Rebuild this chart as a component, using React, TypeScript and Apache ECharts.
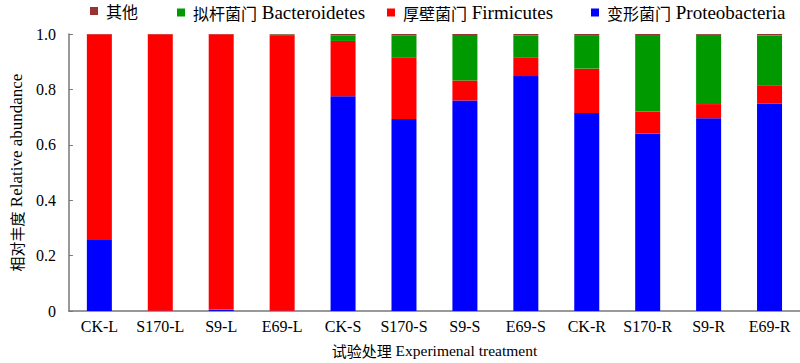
import React, { useEffect, useRef } from "react";
import * as echarts from "echarts";

const categories = ["CK-L", "S170-L", "S9-L", "E69-L", "CK-S", "S170-S", "S9-S", "E69-S", "CK-R", "S170-R", "S9-R", "E69-R"];
const proteobacteria = [0.256, 0.001, 0.005, 0.001, 0.775, 0.693, 0.760, 0.848, 0.715, 0.641, 0.696, 0.749];
const firmicutes = [0.743, 0.998, 0.994, 0.992, 0.200, 0.223, 0.072, 0.068, 0.160, 0.079, 0.051, 0.066];
const bacteroidetes = [0.000, 0.000, 0.000, 0.005, 0.020, 0.078, 0.164, 0.079, 0.121, 0.273, 0.250, 0.180];
const others = [0.001, 0.001, 0.001, 0.002, 0.005, 0.006, 0.004, 0.005, 0.004, 0.007, 0.003, 0.005];

const seriesNames = ["变形菌门 Proteobacteria", "厚壁菌门 Firmicutes", "拟杆菌门 Bacteroidetes", "其他"];
const seriesColors = ["#0000ff", "#ff0000", "#009900", "#993333"];
const yTicks = [0, 0.2, 0.4, 0.6, 0.8, 1.0];
const xAxisName = "试验处理 Experimenal treatment";
const yAxisName = "相对丰度 Relative abundance";

const SERIF = "Liberation Serif, serif";
const CJK = "Noto Sans CJK SC, sans-serif";

const split = (name: string) => {
  const sp = name.indexOf(" ");
  if (sp < 0) return `{c|${name}}`;
  return `{c|${name.slice(0, sp)}}{e| ${name.slice(sp + 1)}}`;
};

export default function App() {
  const ref = useRef<HTMLDivElement>(null);
  useEffect(() => {
    document.body.style.margin = "0";
    const chart = echarts.init(ref.current!, null, { renderer: "svg" });
    const dataSets = [proteobacteria, firmicutes, bacteroidetes, others];
    const legendLefts = [591, 387, 177, 90];
    const richFor = (cSize: number, eSize: number, lh?: number) => ({
      c: { fontFamily: CJK, fontSize: cSize, color: "#000", lineHeight: lh },
      e: { fontFamily: SERIF, fontSize: eSize, color: "#000", lineHeight: lh },
    });
    chart.setOption({
      animation: false,
      textStyle: { fontFamily: SERIF, color: "#000" },
      legend: seriesNames.map((n, i) => ({
        data: [n],
        left: legendLefts[i],
        top: 3,
        padding: 0,
        itemWidth: 8,
        itemHeight: 8,
        itemGap: 6,
        icon: "rect",
        formatter: split,
        textStyle: {
          fontFamily: SERIF,
          fontSize: 16,
          color: "#000",
          lineHeight: 16,
          padding: [0, 0, 0, 3],
          rich: richFor(16, 19, 16),
        },
      })),
      grid: { left: 61, right: 0, top: 34, bottom: 47, containLabel: false },
      xAxis: {
        type: "category",
        data: categories,
        name: split(xAxisName),
        nameLocation: "middle",
        nameGap: 31,
        nameTextStyle: { fontFamily: SERIF, fontSize: 15.5, color: "#000", rich: richFor(15, 15.5) },
        axisLine: { lineStyle: { color: "#777777", width: 1.5 } },
        axisTick: { show: false },
        axisLabel: { fontFamily: SERIF, fontSize: 16, color: "#000", margin: 7, interval: 0 },
      },
      yAxis: {
        type: "value",
        min: 0,
        max: 1,
        interval: 0.2,
        name: split(yAxisName),
        nameLocation: "middle",
        nameGap: 43,
        nameTextStyle: { fontFamily: SERIF, fontSize: 16, color: "#000", rich: richFor(15, 17) },
        axisLine: { show: true, lineStyle: { color: "#777777", width: 1.5 } },
        axisTick: { show: true, inside: true, length: 4, lineStyle: { color: "#777777" } },
        splitLine: { show: false },
        axisLabel: {
          fontFamily: SERIF,
          fontSize: 16,
          color: "#000",
          margin: 13,
          formatter: (v: number) => {
            const t = yTicks.find((x) => Math.abs(x - v) < 1e-6);
            if (t === undefined) return "";
            return t === 0 ? "0" : t.toFixed(1);
          },
        },
      },
      series: seriesNames.map((n, i) => ({
        name: n,
        type: "bar",
        stack: "total",
        barWidth: 25,
        data: dataSets[i],
        itemStyle: { color: seriesColors[i] },
      })),
    });
    return () => chart.dispose();
  }, []);
  return <div ref={ref} style={{ width: 800, height: 363 }} />;
}
